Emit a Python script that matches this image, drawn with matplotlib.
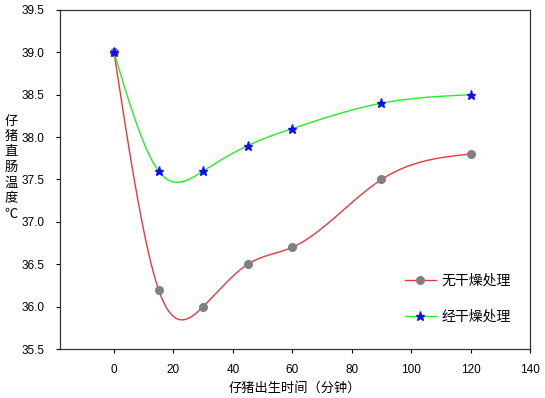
import matplotlib

matplotlib.use("Agg")
import matplotlib.pyplot as plt
import numpy as np

plt.rcParams["font.family"] = ["Liberation Sans", "Noto Sans CJK SC", "DejaVu Sans"]

minutes = [0, 15, 30, 45, 60, 90, 120]
temp_undried = [39.0, 36.2, 36.0, 36.5, 36.7, 37.5, 37.8]
temp_dried = [39.0, 37.6, 37.6, 37.9, 38.1, 38.4, 38.5]
label_undried = "无干燥处理"
label_dried = "经干燥处理"
x_ticks = [0, 20, 40, 60, 80, 100, 120, 140]
y_ticks = [35.5, 36.0, 36.5, 37.0, 37.5, 38.0, 38.5, 39.0, 39.5]


def natural_spline(x, y, n=400):
    # plain natural cubic spline, so the smoothed line goes through the points
    x = np.asarray(x, dtype=float)
    y = np.asarray(y, dtype=float)
    k = len(x)
    h = np.diff(x)
    a = np.zeros((k, k))
    b = np.zeros(k)
    a[0, 0] = a[-1, -1] = 1.0
    for i in range(1, k - 1):
        a[i, i - 1] = h[i - 1]
        a[i, i] = 2 * (h[i - 1] + h[i])
        a[i, i + 1] = h[i]
        b[i] = 6 * ((y[i + 1] - y[i]) / h[i] - (y[i] - y[i - 1]) / h[i - 1])
    m = np.linalg.solve(a, b)
    xs = np.linspace(x[0], x[-1], n)
    idx = np.clip(np.searchsorted(x, xs) - 1, 0, k - 2)
    x0, x1 = x[idx], x[idx + 1]
    hh = x1 - x0
    t0, t1 = x1 - xs, xs - x0
    ys = (m[idx] * t0**3 + m[idx + 1] * t1**3) / (6 * hh) \
        + (y[idx] / hh - m[idx] * hh / 6) * t0 \
        + (y[idx + 1] / hh - m[idx + 1] * hh / 6) * t1
    return xs, ys


fig = plt.figure(figsize=(5.45, 3.98), dpi=100)
ax = fig.add_axes([0.110, 0.123, 0.8625, 0.852])

red = "#e8383d"
green = "#22ee22"
gray = "#808080"
blue = "#1010ee"

xs, ys = natural_spline(minutes, temp_undried)
ax.plot(xs, ys, color=red, linewidth=1.0, zorder=2)
xs, ys = natural_spline(minutes, temp_dried)
ax.plot(xs, ys, color=green, linewidth=1.0, zorder=2)

ax.plot(minutes, temp_undried, linestyle="none", marker="o", markersize=5.5,
        color=gray, zorder=3)
ax.plot(minutes, temp_dried, linestyle="none", marker="*", markersize=6.5,
        color=blue, zorder=4)

# legend proxies: line through the marker
h1, = ax.plot([], [], color=red, linewidth=1.0, marker="o", markersize=5.5,
              markerfacecolor=gray, markeredgecolor=gray)
h2, = ax.plot([], [], color=green, linewidth=1.0, marker="*", markersize=6.5,
              markerfacecolor=blue, markeredgecolor=blue)
ax.legend([h1, h2], [label_undried, label_dried], loc="lower right",
          bbox_to_anchor=(0.985, 0.038), frameon=False, handlelength=2.2,
          labelspacing=1.6, handletextpad=0.4,
          prop={"family": ["Noto Sans CJK SC"], "size": 10})

ax.set_xlim(-18.2, 140)
ax.set_ylim(35.5, 39.5)
ax.set_xticks(x_ticks)
ax.set_yticks(y_ticks)
ax.set_yticklabels([f"{v:.1f}" for v in y_ticks])
ax.tick_params(axis="x", direction="out", length=3, width=0.8, labelsize=8.5, pad=8)
ax.tick_params(axis="y", direction="out", length=3, width=0.8, labelsize=8.5, pad=8)
for s in ax.spines.values():
    s.set_linewidth(0.9)
    s.set_color("#333333")

ax.set_xlabel("仔猪出生时间（分钟）", fontsize=9.5, family=["Noto Sans CJK SC"], labelpad=4)

# stacked upright y label, one character per row
ylabel_chars = list("仔猪直肠温度") + ["℃"]
row_px = 15.5
top_px = 121
for i, ch in enumerate(ylabel_chars):
    fig.text(11 / 545, 1 - (top_px + i * row_px) / 398, ch, ha="center", va="center",
             fontsize=9.5, family=["Noto Sans CJK SC", "DejaVu Sans"])

fig.savefig("out.png", dpi=100)
